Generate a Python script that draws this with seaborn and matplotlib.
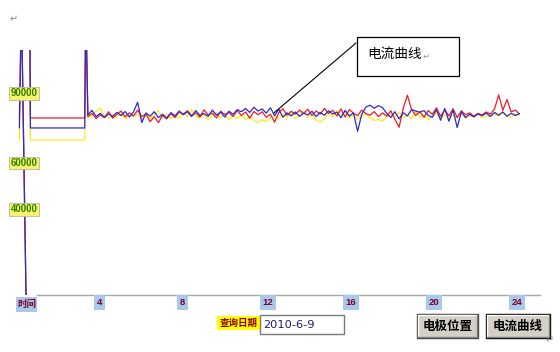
import matplotlib
matplotlib.use("Agg")
import matplotlib.pyplot as plt
import pandas as pd
import seaborn as sns
from matplotlib.patches import Rectangle
from matplotlib.transforms import offset_copy

# ---------------- data ----------------
series_names = ["yellow", "red", "blue"]

lead_hours = [0.5, 0.6, 0.82]
flat_hours = [1.0, 1.03, 3.65, 3.7]

yellow_lead = [66700, 125000, 0]
red_lead = [76200, 125000, 0]
blue_lead = [71900, 125000, 0]

yellow_flat = [125000, 66700, 66700, 125000]
red_flat = [125000, 76200, 76200, 125000]
blue_flat = [125000, 71900, 71900, 125000]

hours = [3.8,
         4.0, 4.2, 4.4, 4.6, 4.8,
         5.0, 5.2, 5.4, 5.6, 5.8,
         6.0, 6.2, 6.4, 6.6, 6.8,
         7.0, 7.2, 7.4, 7.6, 7.8,
         8.0, 8.2, 8.4, 8.6, 8.8,
         9.0, 9.2, 9.4, 9.6, 9.8,
         10.0, 10.2, 10.4, 10.6, 10.8,
         11.0, 11.2, 11.4, 11.6, 11.8,
         12.0, 12.2, 12.4, 12.6, 12.8,
         13.0, 13.2, 13.4, 13.6, 13.8,
         14.0, 14.2, 14.4, 14.6, 14.8,
         15.0, 15.2, 15.4, 15.6, 15.8,
         16.0, 16.2, 16.4, 16.6, 16.8,
         17.0, 17.2, 17.4, 17.6, 17.8,
         18.0, 18.2, 18.4, 18.6, 18.8,
         19.0, 19.2, 19.4, 19.6, 19.8,
         20.0, 20.2, 20.4, 20.6, 20.8,
         21.0, 21.2, 21.4, 21.6, 21.8,
         22.0, 22.2, 22.4, 22.6, 22.8,
         23.0, 23.2, 23.4, 23.6, 23.8,
         24.0, 24.2, 24.4, 24.6]

blue_current = [77500,
                79500, 76800, 78200, 76500, 77900,
                76900, 78600, 77200, 79000, 76600,
                78800, 83000, 74200, 78400, 77000,
                78900, 76400, 77800, 76200, 78500,
                77100, 79200, 77600, 78900, 76800,
                79400, 77300, 78100, 76900, 79600,
                77400, 78700, 76600, 79100, 77800,
                79800, 78900, 80300, 78600, 80800,
                79200, 80100, 78300, 80600, 77200,
                79900, 76500, 78400, 77100, 78800,
                76900, 78300, 77500, 79100, 76800,
                78600, 77400, 79300, 77900, 78700,
                76300, 79500, 77000, 78400, 70500,
                77800, 80900, 81700, 80400, 81500,
                80700, 78200, 76400, 78900, 75800,
                78500, 77100, 79800, 79200, 78700,
                79400, 77300, 76500, 79800, 75200,
                80300, 74800, 79600, 72100, 78900,
                76400, 77800, 76700, 77900, 77200,
                78300, 76900, 78600, 77400, 78800,
                76900, 78200, 77300, 78100]

red_current = [76800,
               78200, 75900, 77600, 76300, 78900,
               76100, 77800, 79200, 76700, 78400,
               77100, 79600, 76800, 77900, 74600,
               76800, 74200, 77300, 75800, 78100,
               76400, 78800, 77900, 79300, 77200,
               78400, 76600, 79700, 77500, 78300,
               76200, 79100, 77700, 78600, 76900,
               79400, 77300, 78800, 76100, 79000,
               77600, 78900, 76500, 77800, 74400,
               78500, 80200, 77400, 79100, 77800,
               79600, 78100, 80000, 77300, 79200,
               77900, 80300, 78200, 79500, 77100,
               80100, 76600, 79800, 78300, 77200,
               79600, 78100, 77400, 79000, 76800,
               78400, 77000, 79300, 75600, 72200,
               80500, 86000, 79800, 77300, 78900,
               76500, 79400, 77800, 80600, 76900,
               79700, 77100, 80200, 76400, 79300,
               77600, 78400, 77000, 78200, 77500,
               78800, 77900, 80100, 86200, 79500,
               84200, 78800, 79600, 78000]

yellow_current = [76200,
                  77600, 79100, 80400, 77300, 76100,
                  77900, 76400, 78300, 75900, 77600,
                  76800, 78200, 75700, 77400, 76000,
                  77800, 79400, 76500, 78000, 75800,
                  77300, 76100, 78400, 76600, 79900,
                  77000, 76200, 77800, 75600, 77200,
                  78500, 76300, 77600, 75500, 77100,
                  76000, 77400, 75600, 76800, 74900,
                  74300, 75500, 74600, 76200, 77400,
                  75800, 77900, 76100, 78600, 75900,
                  77300, 79200, 76400, 77700, 75300,
                  74400, 75900, 78100, 76700, 79300,
                  77400, 78800, 76200, 77500, 75600,
                  76900, 78100, 76300, 75100, 75600,
                  74900, 76600, 78000, 76800, 78700,
                  76500, 77400, 75800, 78900, 76300,
                  77600, 75400, 76900, 78400, 76200,
                  77500, 75900, 77100, 76400, 78300,
                  76000, 77400, 76600, 77900, 76300,
                  77200, 76700, 78100, 77000, 78500,
                  77300, 76500, 77800, 77100]

x_ticks = [4, 8, 12, 16, 20, 24]
x_labels = ["4", "8", "12", "16", "20", "24"]
y_ticks = [40000, 60000, 90000]
y_labels = ["40000", "60000", "90000"]

annot_hour = 12.77
annot_value = 78400

# ---------------- table ----------------
leads = {"yellow": yellow_lead, "red": red_lead, "blue": blue_lead}
flats = {"yellow": yellow_flat, "red": red_flat, "blue": blue_flat}
noises = {"yellow": yellow_current, "red": red_current, "blue": blue_current}
frames = []
for name in series_names:
    frames.append(pd.DataFrame({"hour": lead_hours, "current": leads[name],
                                "series": name, "seg": 0}))
    frames.append(pd.DataFrame({"hour": flat_hours + hours,
                                "current": flats[name] + noises[name],
                                "series": name, "seg": 1}))
df = pd.concat(frames, ignore_index=True)

# ---------------- figure ----------------
sns.set_style("white")
plt.rcParams["font.family"] = ["DejaVu Sans", "Noto Sans CJK SC"]
CJK = ["Noto Sans CJK SC", "DejaVu Sans"]
SANS = ["Liberation Sans", "DejaVu Sans"]

W, H = 560, 352
fig = plt.figure(figsize=(W / 100, H / 100), dpi=100)
fig.patch.set_facecolor("white")

ax = fig.add_axes([9 / W, 1 - 294.8 / H, 539.5 / W, 244.8 / H])
palette = {"yellow": "#ffe81a", "red": "#ec1c24", "blue": "#2a2ad6"}
sns.lineplot(data=df, x="hour", y="current", hue="series", units="seg",
             estimator=None, sort=False, hue_order=series_names,
             palette=palette, linewidth=0.9, legend=False, ax=ax)
ax.set_xlim(0, 26)
ax.set_ylim(0, 105500)
ax.set_xlabel("")
ax.set_ylabel("")
ax.set_facecolor("white")
for s in ["top", "right", "left"]:
    ax.spines[s].set_visible(False)
ax.spines["left"].set_position(("data", 0.1))
ax.spines["bottom"].set_color("#a8a8a8")
ax.spines["bottom"].set_linewidth(1.0)
ax.spines["bottom"].set_bounds(1.35, 25.6)
ax.set_xticks(x_ticks)
ax.set_yticks(y_ticks)
ax.tick_params(axis="x", direction="in", length=5, width=0.8, color="#909090",
               labelbottom=False)
ax.tick_params(axis="y", direction="in", length=8, width=0.8, color="#909090",
               labelleft=False)

# y tick labels: yellow boxes
ytr = offset_copy(ax.transData, fig=fig, x=1.5, y=-2.5, units="dots")
for v, lab in zip(y_ticks, y_labels):
    ax.text(0, v, lab, transform=ytr, ha="left", va="top", fontsize=6.9,
            fontweight="bold", color="#2e7d00", zorder=6, family=SANS,
            bbox=dict(boxstyle="square,pad=0.12", fc="#f4f46a", ec="#b8b8a0",
                      lw=0.6))

# x tick labels: light blue boxes
xtr = offset_copy(ax.transData, fig=fig, x=4.5, y=-3.5, units="dots")
for t, lab in zip(x_ticks, x_labels):
    ax.text(t, 0, lab, transform=xtr, ha="left", va="top", fontsize=6.8,
            fontweight="bold", color="#7a0024", zorder=6, clip_on=False,
            family=SANS,
            bbox=dict(boxstyle="square,pad=0.3", fc="#a8c8ec", ec="none"))

# ---------------- overlay (screen elements) ----------------
ui = fig.add_axes([0, 0, 1, 1])
ui.set_xlim(0, W)
ui.set_ylim(H, 0)
ui.axis("off")
ui.patch.set_alpha(0)

# "时间" box
ui.add_patch(Rectangle((16, 297), 21, 15, fc="#a8c8ec", ec="none"))
ui.text(26.5, 304.5, "时间", ha="center", va="center", fontsize=6.8,
        fontweight="bold", color="#7a0024", family=CJK)

# query date label
ui.add_patch(Rectangle((217, 316), 43, 14, fc="#ffff00", ec="none"))
ui.text(238.5, 323, "查询日期", ha="center", va="center", fontsize=6.8,
        fontweight="bold", color="#8a0010", family=CJK)

# date field
ui.add_patch(Rectangle((260, 315), 84, 19, fc="white", ec="#7a7a7a", lw=1.0))
ui.text(263, 324.5, "2010-6-9", ha="left", va="center", fontsize=8.2,
        color="#1c1c7a")

# buttons
def button(x0, y0, w, h, label, focused=False):
    ui.add_patch(Rectangle((x0, y0), w, h, fc="#d4d0c8",
                           ec="black" if focused else "#404040", lw=1.0))
    ui.plot([x0 + 1, x0 + w - 1], [y0 + 1.2, y0 + 1.2], color="white", lw=1.0)
    ui.plot([x0 + 1.2, x0 + 1.2], [y0 + 1, y0 + h - 1], color="white", lw=1.0)
    ui.plot([x0 + 1, x0 + w - 1.5], [y0 + h - 1.5, y0 + h - 1.5],
            color="#808080", lw=1.0)
    ui.plot([x0 + w - 1.5, x0 + w - 1.5], [y0 + 1, y0 + h - 1.5],
            color="#808080", lw=1.0)
    ui.text(x0 + w / 2, y0 + h / 2 + 0.5, label, ha="center", va="center",
            fontsize=9, fontweight="bold", color="black", family=CJK)

button(417, 314, 61, 24, "电极位置")
button(486, 314, 64, 24, "电流曲线", focused=True)

# annotation callout
ui.add_patch(Rectangle((357, 37), 102, 39, fc="white", ec="black", lw=0.9))
ui.text(367, 54, "电流曲线", ha="left", va="center", fontsize=9.8,
        color="black", family=CJK)
ui.text(423, 56, "↵", ha="left", va="center", fontsize=6, color="#909090")
ui.annotate("", xy=(annot_hour, annot_value), xycoords=ax.transData,
            xytext=(356, 43), textcoords="data",
            arrowprops=dict(arrowstyle="-", color="black", lw=0.8,
                            shrinkA=0, shrinkB=0))

# paragraph marks
ui.text(10, 19, "↵", ha="left", va="center", fontsize=7, color="#8a8a8a")
ui.text(546, 340, "↵", ha="left", va="center", fontsize=7, color="#8a8a8a")

fig.savefig("out.png", dpi=100, facecolor="white")
